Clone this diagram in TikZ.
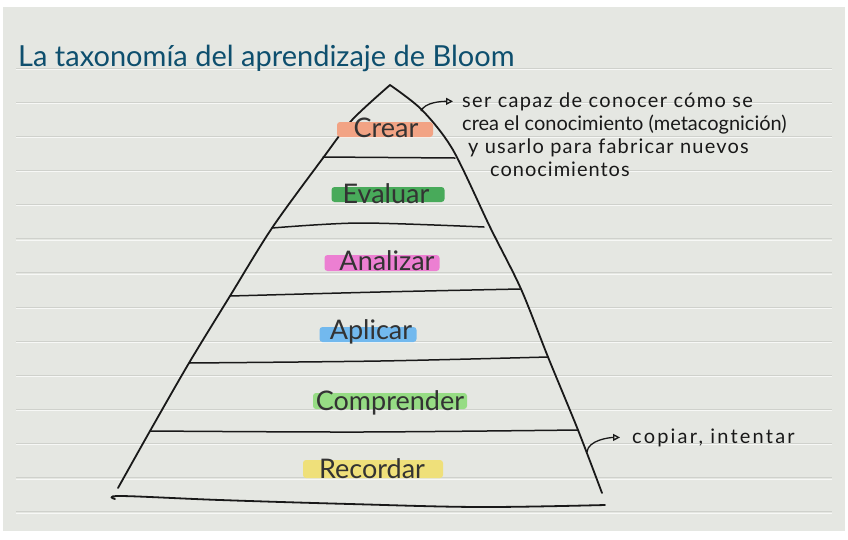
\documentclass[tikz,border=0pt]{standalone}
\usepackage{fontspec}
\setmainfont{Lato}
\usetikzlibrary{arrows.meta, positioning, backgrounds}

% Custom colours
\definecolor{paper}{HTML}{E5E7E2}
\definecolor{ruling}{HTML}{CFD1CC}
\definecolor{inkblue}{HTML}{0E4F6E}
\definecolor{hlorange}{HTML}{F2A384}
\definecolor{hlgreen}{HTML}{48AA5A}
\definecolor{hlpink}{HTML}{EC7FD2}
\definecolor{hlblue}{HTML}{72B9EE}
\definecolor{hllime}{HTML}{96DC84}
\definecolor{hlyellow}{HTML}{EFE07A}

\begin{document}
\begin{tikzpicture}[
    x=1pt, y=-1pt,
    >={Triangle[open, length=7pt, width=7pt]},
    % --- Style Definitions ---
    ruleline/.style={line width=1pt, ruling},
    pen/.style={line width=1.8pt, black!90, line cap=round, line join=round},
    layerline/.style={line width=1.5pt, black!90, line cap=round},
    hlbar/.style={fill=#1, rounded corners=3pt, inner sep=0pt},
    layertext/.style={font=\fontsize{27}{30}\selectfont, text=black!80,
        inner sep=0pt, anchor=base},
    notetext/.style={font=\fontsize{20}{22}\selectfont\addfontfeatures{LetterSpace=#1},
        text=black!90, inner sep=0pt, anchor=base west},
    notetext/.default=5,
    notearrow/.style={->, line width=1.3pt, black!90}
]

% ================= Paper =================
\useasboundingbox (0,0) rectangle (848,539);
\fill[white] (0,0) rectangle (848,539);
\fill[paper] (3,7) rectangle (845,531);
\foreach \k in {0,...,13} {
    \draw[ruleline] (16,{68+34.15*\k}) -- (832,{68+34.15*\k});
    \draw[white!70!paper, line width=0.8pt] (16,{69.2+34.15*\k}) -- (832,{69.2+34.15*\k});
}

% ================= Title =================
\node[anchor=base west, inner sep=0pt, text=inkblue,
      font=\fontsize{29}{32}\selectfont] (title) at (18,66)
      {La taxonomía del aprendizaje de Bloom};

% ================= Pyramid =================
\coordinate (apex) at (390,85);
\draw[pen] plot[smooth, tension=0.5] coordinates
    {(118,488) (150,431) (189,363) (230,296) (272,228) (323,158) (352,120) (apex)};
\draw[pen] plot[smooth, tension=0.5] coordinates
    {(apex) (422,110) (453,150) (490,227) (521,289) (548,357) (578,430) (602,493)};
\draw[pen] plot[smooth, tension=0.6] coordinates
    {(115,499) (121,496) (220,500) (350,504) (480,507) (605,505)};

\draw[layerline] (323,157) -- (455,158);
\draw[layerline] plot[smooth] coordinates {(272,228) (360,223) (484,227)};
\draw[layerline] plot[smooth] coordinates {(230,296) (380,292) (520,289)};
\draw[layerline] plot[smooth] coordinates {(189,363) (380,361) (548,357)};
\draw[layerline] plot[smooth] coordinates {(150,431) (360,432) (578,430)};

% ================= Levels =================
\node[hlbar=hlorange, minimum width=96pt, minimum height=15pt] (crearhl) at (385,129.5) {};
\node[layertext] (crear) at (386,137) {Crear};

\node[hlbar=hlgreen, minimum width=113pt, minimum height=15pt] (evaluarhl) at (388,194.5) {};
\node[layertext] (evaluar) at (386,203) {Evaluar};

\node[hlbar=hlpink, minimum width=115pt, minimum height=16pt] (analizarhl) at (382,263) {};
\node[layertext] (analizar) at (387,270) {Analizar};

\node[hlbar=hlblue, minimum width=97pt, minimum height=15pt] (aplicarhl) at (368,334.5) {};
\node[layertext] (aplicar) at (371,339) {Aplicar};

\node[hlbar=hllime, minimum width=154pt, minimum height=16pt] (comprenderhl) at (390,401) {};
\node[layertext] (comprender) at (390,410) {Comprender};

\node[hlbar=hlyellow, minimum width=140pt, minimum height=18pt] (recordarhl) at (373,469) {};
\node[layertext] (recordar) at (372,478) {Recordar};

% ================= Notes =================
\node[notetext=6.6] (top1) at (462,107) {ser capaz de conocer cómo se};
\node[notetext=0] (top2) at (462,130) {crea el conocimiento (metacognición)};
\node[notetext=6] (top3) at (468,153) {y usarlo para fabricar nuevos};
\node[notetext] (top4) at (490,176) {conocimientos};
\node[notetext=11] (copy) at (632,443) {copiar, intentar};

\coordinate (topout) at (421,111);
\coordinate (lowout) at (587,452);
\draw[notearrow, shorten >=9pt] (topout) .. controls +(4,-9) and +(-20,0) .. (top1.west);
\draw[notearrow, shorten >=12pt] (lowout) .. controls +(1,-12) and +(-22,0) .. (copy.west);

\end{tikzpicture}
\end{document}
